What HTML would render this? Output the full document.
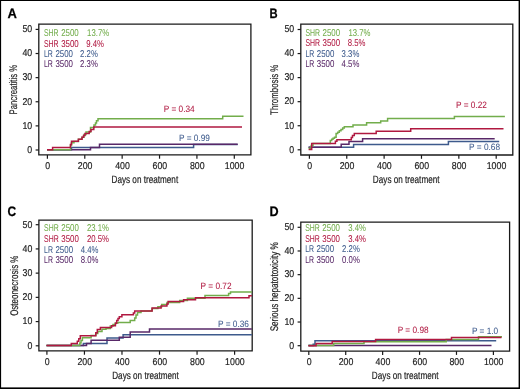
<!DOCTYPE html>
<html><head><meta charset="utf-8"><style>
html,body{margin:0;padding:0;background:#fff;}
body{width:520px;height:389px;overflow:hidden;}
svg{display:block;will-change:transform;text-rendering:geometricPrecision;font-family:"Liberation Sans",sans-serif;}
</style></head><body>
<svg width="520" height="389" viewBox="0 0 520 389">
<rect x="0" y="0" width="520" height="389" fill="#fff"/>
<text transform="translate(7.60,17.70) scale(0.950,1)" font-size="13.7" text-anchor="start" fill="#000" stroke="#000" stroke-width="0.25" font-weight="bold">A</text>
<path d="M38.800,24.1 H250.9 V154.9 H38.800 Z" fill="none" stroke="#1a1a1a" stroke-width="1.3"/>
<path d="M35.6,150.00 H38.800" stroke="#1a1a1a" stroke-width="1.2"/>
<text transform="translate(32.20,152.80) scale(0.890,1)" font-size="9.9" text-anchor="end" fill="#222" stroke="#222" stroke-width="0.18" font-weight="normal">0</text>
<path d="M35.6,125.88 H38.800" stroke="#1a1a1a" stroke-width="1.2"/>
<text transform="translate(32.20,128.68) scale(0.890,1)" font-size="9.9" text-anchor="end" fill="#222" stroke="#222" stroke-width="0.18" font-weight="normal">10</text>
<path d="M35.6,101.76 H38.800" stroke="#1a1a1a" stroke-width="1.2"/>
<text transform="translate(32.20,104.56) scale(0.890,1)" font-size="9.9" text-anchor="end" fill="#222" stroke="#222" stroke-width="0.18" font-weight="normal">20</text>
<path d="M35.6,77.64 H38.800" stroke="#1a1a1a" stroke-width="1.2"/>
<text transform="translate(32.20,80.44) scale(0.890,1)" font-size="9.9" text-anchor="end" fill="#222" stroke="#222" stroke-width="0.18" font-weight="normal">30</text>
<path d="M35.6,53.52 H38.800" stroke="#1a1a1a" stroke-width="1.2"/>
<text transform="translate(32.20,56.32) scale(0.890,1)" font-size="9.9" text-anchor="end" fill="#222" stroke="#222" stroke-width="0.18" font-weight="normal">40</text>
<path d="M35.6,29.40 H38.800" stroke="#1a1a1a" stroke-width="1.2"/>
<text transform="translate(32.20,32.20) scale(0.890,1)" font-size="9.9" text-anchor="end" fill="#222" stroke="#222" stroke-width="0.18" font-weight="normal">50</text>
<path d="M47.40,154.9 V158.700" stroke="#1a1a1a" stroke-width="1.2"/>
<text transform="translate(47.70,169.10) scale(0.890,1)" font-size="9.9" text-anchor="middle" fill="#222" stroke="#222" stroke-width="0.18" font-weight="normal">0</text>
<path d="M84.78,154.9 V158.700" stroke="#1a1a1a" stroke-width="1.2"/>
<text transform="translate(85.08,169.10) scale(0.890,1)" font-size="9.9" text-anchor="middle" fill="#222" stroke="#222" stroke-width="0.18" font-weight="normal">200</text>
<path d="M122.16,154.9 V158.700" stroke="#1a1a1a" stroke-width="1.2"/>
<text transform="translate(122.46,169.10) scale(0.890,1)" font-size="9.9" text-anchor="middle" fill="#222" stroke="#222" stroke-width="0.18" font-weight="normal">400</text>
<path d="M159.54,154.9 V158.700" stroke="#1a1a1a" stroke-width="1.2"/>
<text transform="translate(159.84,169.10) scale(0.890,1)" font-size="9.9" text-anchor="middle" fill="#222" stroke="#222" stroke-width="0.18" font-weight="normal">600</text>
<path d="M196.92,154.9 V158.700" stroke="#1a1a1a" stroke-width="1.2"/>
<text transform="translate(197.22,169.10) scale(0.890,1)" font-size="9.9" text-anchor="middle" fill="#222" stroke="#222" stroke-width="0.18" font-weight="normal">800</text>
<path d="M234.30,154.9 V158.700" stroke="#1a1a1a" stroke-width="1.2"/>
<text transform="translate(234.60,169.10) scale(0.890,1)" font-size="9.9" text-anchor="middle" fill="#222" stroke="#222" stroke-width="0.18" font-weight="normal">1000</text>
<text transform="translate(144.85,183.20) scale(0.770,1)" font-size="10.6" text-anchor="middle" fill="#222" stroke="#222" stroke-width="0.18" font-weight="normal">Days on treatment</text>
<text transform="translate(16.80,89.70) rotate(-90) scale(0.705,1)" font-size="11" text-anchor="middle" fill="#222" stroke="#222" stroke-width="0.18" font-weight="normal">Pancreatitis %</text>
<path d="M47,149.8 H71.5 V147.4 H193.6 V144.5 H237.7" fill="none" stroke="#3d5a8c" stroke-width="1.5" stroke-linejoin="miter" stroke-linecap="butt"/>
<path d="M47,149.8 H90.5 V147.4 H99.5 V144.3 H237.7" fill="none" stroke="#582868" stroke-width="1.5" stroke-linejoin="miter" stroke-linecap="butt"/>
<path d="M47,149.8 H70.5 V145 H71.5 V142.8 H74 V141.4 H78.4 V139.3 H82 V137.2 H84 V134.5 H86 V132 H90.5 V127.4 H94 V125 H95.5 V123 H96.5 V120.8 H98 V118.7 H222.7 V116.2 H243.5" fill="none" stroke="#72ad4b" stroke-width="1.5" stroke-linejoin="miter" stroke-linecap="butt"/>
<path d="M47,149.8 H52.6 V147.6 H70.5 V144.5 H71.5 V141.3 H78.4 V139.2 H82 V137.2 H83.5 V135.5 H85 V133.6 H89.2 V131.5 H91 V129.5 H93.8 V127.1 H242" fill="none" stroke="#b01840" stroke-width="1.5" stroke-linejoin="miter" stroke-linecap="butt"/>
<text transform="translate(44.00,35.80) scale(0.700,1)" font-size="9.9" text-anchor="start" fill="#72ad4b" stroke="#72ad4b" stroke-width="0.05" font-weight="normal">SHR</text>
<text transform="translate(61.16,35.80) scale(0.800,1)" font-size="9.9" text-anchor="start" fill="#72ad4b" stroke="#72ad4b" stroke-width="0.05" font-weight="normal">2500</text>
<text transform="translate(87.10,35.80) scale(0.785,1)" font-size="9.9" text-anchor="start" fill="#72ad4b" stroke="#72ad4b" stroke-width="0.05" font-weight="normal">13.7%</text>
<text transform="translate(44.00,46.50) scale(0.700,1)" font-size="9.9" text-anchor="start" fill="#b01840" stroke="#b01840" stroke-width="0.05" font-weight="normal">SHR</text>
<text transform="translate(61.16,46.50) scale(0.800,1)" font-size="9.9" text-anchor="start" fill="#b01840" stroke="#b01840" stroke-width="0.05" font-weight="normal">3500</text>
<text transform="translate(86.30,46.50) scale(0.785,1)" font-size="9.9" text-anchor="start" fill="#b01840" stroke="#b01840" stroke-width="0.05" font-weight="normal">9.4%</text>
<text transform="translate(44.00,57.00) scale(0.700,1)" font-size="9.9" text-anchor="start" fill="#3d5a8c" stroke="#3d5a8c" stroke-width="0.05" font-weight="normal">LR</text>
<text transform="translate(55.38,57.00) scale(0.800,1)" font-size="9.9" text-anchor="start" fill="#3d5a8c" stroke="#3d5a8c" stroke-width="0.05" font-weight="normal">2500</text>
<text transform="translate(80.10,57.00) scale(0.785,1)" font-size="9.9" text-anchor="start" fill="#3d5a8c" stroke="#3d5a8c" stroke-width="0.05" font-weight="normal">2.2%</text>
<text transform="translate(44.00,67.10) scale(0.700,1)" font-size="9.9" text-anchor="start" fill="#582868" stroke="#582868" stroke-width="0.05" font-weight="normal">LR</text>
<text transform="translate(55.38,67.10) scale(0.800,1)" font-size="9.9" text-anchor="start" fill="#582868" stroke="#582868" stroke-width="0.05" font-weight="normal">3500</text>
<text transform="translate(80.10,67.10) scale(0.785,1)" font-size="9.9" text-anchor="start" fill="#582868" stroke="#582868" stroke-width="0.05" font-weight="normal">2.3%</text>
<text transform="translate(163.80,111.80) scale(0.900,1)" font-size="9.2" text-anchor="start" fill="#b01840" stroke="#b01840" stroke-width="0.05" font-weight="normal">P = 0.34</text>
<text transform="translate(179.00,140.60) scale(0.900,1)" font-size="9.2" text-anchor="start" fill="#3d5a8c" stroke="#3d5a8c" stroke-width="0.05" font-weight="normal">P = 0.99</text>
<text transform="translate(269.60,17.90) scale(0.820,1)" font-size="13.7" text-anchor="start" fill="#000" stroke="#000" stroke-width="0.25" font-weight="bold">B</text>
<path d="M300.8,24.2 H512.8 V155.0 H300.8 Z" fill="none" stroke="#1a1a1a" stroke-width="1.3"/>
<path d="M297.6,149.80 H300.8" stroke="#1a1a1a" stroke-width="1.2"/>
<text transform="translate(294.20,152.60) scale(0.890,1)" font-size="9.9" text-anchor="end" fill="#222" stroke="#222" stroke-width="0.18" font-weight="normal">0</text>
<path d="M297.6,125.74 H300.8" stroke="#1a1a1a" stroke-width="1.2"/>
<text transform="translate(294.20,128.54) scale(0.890,1)" font-size="9.9" text-anchor="end" fill="#222" stroke="#222" stroke-width="0.18" font-weight="normal">10</text>
<path d="M297.6,101.68 H300.8" stroke="#1a1a1a" stroke-width="1.2"/>
<text transform="translate(294.20,104.48) scale(0.890,1)" font-size="9.9" text-anchor="end" fill="#222" stroke="#222" stroke-width="0.18" font-weight="normal">20</text>
<path d="M297.6,77.62 H300.8" stroke="#1a1a1a" stroke-width="1.2"/>
<text transform="translate(294.20,80.42) scale(0.890,1)" font-size="9.9" text-anchor="end" fill="#222" stroke="#222" stroke-width="0.18" font-weight="normal">30</text>
<path d="M297.6,53.56 H300.8" stroke="#1a1a1a" stroke-width="1.2"/>
<text transform="translate(294.20,56.36) scale(0.890,1)" font-size="9.9" text-anchor="end" fill="#222" stroke="#222" stroke-width="0.18" font-weight="normal">40</text>
<path d="M297.6,29.50 H300.8" stroke="#1a1a1a" stroke-width="1.2"/>
<text transform="translate(294.20,32.30) scale(0.890,1)" font-size="9.9" text-anchor="end" fill="#222" stroke="#222" stroke-width="0.18" font-weight="normal">50</text>
<path d="M309.40,155.0 V158.8" stroke="#1a1a1a" stroke-width="1.2"/>
<text transform="translate(309.70,169.20) scale(0.890,1)" font-size="9.9" text-anchor="middle" fill="#222" stroke="#222" stroke-width="0.18" font-weight="normal">0</text>
<path d="M346.76,155.0 V158.8" stroke="#1a1a1a" stroke-width="1.2"/>
<text transform="translate(347.06,169.20) scale(0.890,1)" font-size="9.9" text-anchor="middle" fill="#222" stroke="#222" stroke-width="0.18" font-weight="normal">200</text>
<path d="M384.12,155.0 V158.8" stroke="#1a1a1a" stroke-width="1.2"/>
<text transform="translate(384.42,169.20) scale(0.890,1)" font-size="9.9" text-anchor="middle" fill="#222" stroke="#222" stroke-width="0.18" font-weight="normal">400</text>
<path d="M421.48,155.0 V158.8" stroke="#1a1a1a" stroke-width="1.2"/>
<text transform="translate(421.78,169.20) scale(0.890,1)" font-size="9.9" text-anchor="middle" fill="#222" stroke="#222" stroke-width="0.18" font-weight="normal">600</text>
<path d="M458.84,155.0 V158.8" stroke="#1a1a1a" stroke-width="1.2"/>
<text transform="translate(459.14,169.20) scale(0.890,1)" font-size="9.9" text-anchor="middle" fill="#222" stroke="#222" stroke-width="0.18" font-weight="normal">800</text>
<path d="M496.20,155.0 V158.8" stroke="#1a1a1a" stroke-width="1.2"/>
<text transform="translate(496.50,169.20) scale(0.890,1)" font-size="9.9" text-anchor="middle" fill="#222" stroke="#222" stroke-width="0.18" font-weight="normal">1000</text>
<text transform="translate(406.20,183.40) scale(0.770,1)" font-size="10.6" text-anchor="middle" fill="#222" stroke="#222" stroke-width="0.18" font-weight="normal">Days on treatment</text>
<text transform="translate(278.20,89.80) rotate(-90) scale(0.715,1)" font-size="11" text-anchor="middle" fill="#222" stroke="#222" stroke-width="0.18" font-weight="normal">Thrombosis %</text>
<path d="M308.6,147.3 H353.6 V144.6 H448.4 V141.6 H499.2" fill="none" stroke="#3d5a8c" stroke-width="1.5" stroke-linejoin="miter" stroke-linecap="butt"/>
<path d="M308.6,147.3 H341.2 V144.3 H349 V141.4 H362.6 V138.8 H494.7" fill="none" stroke="#582868" stroke-width="1.5" stroke-linejoin="miter" stroke-linecap="butt"/>
<path d="M308.6,148.2 H311.2 V145.5 H313 V143.4 H330.3 V140.5 H331.7 V139.3 H333 V138.3 H334.5 V137.2 H336.1 V133.5 H337.7 V132.2 H339.3 V130.7 H341 V129.5 H342.7 V128 H344.3 V126.8 H353 V125 H366.6 V122.7 H380.7 V121 H387.6 V118.6 H454.4 V116.5 H504.9" fill="none" stroke="#72ad4b" stroke-width="1.5" stroke-linejoin="miter" stroke-linecap="butt"/>
<path d="M308.6,149.5 H311.7 V143.4 H335.4 V141.3 H336.9 V139.7 H351.3 V137.5 H352.5 V135.5 H354.3 V133.5 H376.2 V131.2 H410.7 V128.7 H503.5" fill="none" stroke="#b01840" stroke-width="1.5" stroke-linejoin="miter" stroke-linecap="butt"/>
<text transform="translate(305.40,35.60) scale(0.700,1)" font-size="9.9" text-anchor="start" fill="#72ad4b" stroke="#72ad4b" stroke-width="0.05" font-weight="normal">SHR</text>
<text transform="translate(322.56,35.60) scale(0.800,1)" font-size="9.9" text-anchor="start" fill="#72ad4b" stroke="#72ad4b" stroke-width="0.05" font-weight="normal">2500</text>
<text transform="translate(348.50,35.60) scale(0.785,1)" font-size="9.9" text-anchor="start" fill="#72ad4b" stroke="#72ad4b" stroke-width="0.05" font-weight="normal">13.7%</text>
<text transform="translate(305.40,46.30) scale(0.700,1)" font-size="9.9" text-anchor="start" fill="#b01840" stroke="#b01840" stroke-width="0.05" font-weight="normal">SHR</text>
<text transform="translate(322.56,46.30) scale(0.800,1)" font-size="9.9" text-anchor="start" fill="#b01840" stroke="#b01840" stroke-width="0.05" font-weight="normal">3500</text>
<text transform="translate(347.80,46.30) scale(0.785,1)" font-size="9.9" text-anchor="start" fill="#b01840" stroke="#b01840" stroke-width="0.05" font-weight="normal">8.5%</text>
<text transform="translate(305.40,57.00) scale(0.700,1)" font-size="9.9" text-anchor="start" fill="#3d5a8c" stroke="#3d5a8c" stroke-width="0.05" font-weight="normal">LR</text>
<text transform="translate(316.78,57.00) scale(0.800,1)" font-size="9.9" text-anchor="start" fill="#3d5a8c" stroke="#3d5a8c" stroke-width="0.05" font-weight="normal">2500</text>
<text transform="translate(341.60,57.00) scale(0.785,1)" font-size="9.9" text-anchor="start" fill="#3d5a8c" stroke="#3d5a8c" stroke-width="0.05" font-weight="normal">3.3%</text>
<text transform="translate(305.40,67.10) scale(0.700,1)" font-size="9.9" text-anchor="start" fill="#582868" stroke="#582868" stroke-width="0.05" font-weight="normal">LR</text>
<text transform="translate(316.78,67.10) scale(0.800,1)" font-size="9.9" text-anchor="start" fill="#582868" stroke="#582868" stroke-width="0.05" font-weight="normal">3500</text>
<text transform="translate(341.60,67.10) scale(0.785,1)" font-size="9.9" text-anchor="start" fill="#582868" stroke="#582868" stroke-width="0.05" font-weight="normal">4.5%</text>
<text transform="translate(456.00,107.50) scale(0.900,1)" font-size="9.2" text-anchor="start" fill="#b01840" stroke="#b01840" stroke-width="0.05" font-weight="normal">P = 0.22</text>
<text transform="translate(469.10,150.00) scale(0.900,1)" font-size="9.2" text-anchor="start" fill="#3d5a8c" stroke="#3d5a8c" stroke-width="0.05" font-weight="normal">P = 0.68</text>
<text transform="translate(7.40,215.60) scale(0.870,1)" font-size="13.7" text-anchor="start" fill="#000" stroke="#000" stroke-width="0.25" font-weight="bold">C</text>
<path d="M38.900,220.1 H252.200 V350.900 H38.900 Z" fill="none" stroke="#1a1a1a" stroke-width="1.3"/>
<path d="M35.7,345.80 H38.900" stroke="#1a1a1a" stroke-width="1.2"/>
<text transform="translate(32.30,348.60) scale(0.890,1)" font-size="9.9" text-anchor="end" fill="#222" stroke="#222" stroke-width="0.18" font-weight="normal">0</text>
<path d="M35.7,321.58 H38.900" stroke="#1a1a1a" stroke-width="1.2"/>
<text transform="translate(32.30,324.38) scale(0.890,1)" font-size="9.9" text-anchor="end" fill="#222" stroke="#222" stroke-width="0.18" font-weight="normal">10</text>
<path d="M35.7,297.36 H38.900" stroke="#1a1a1a" stroke-width="1.2"/>
<text transform="translate(32.30,300.16) scale(0.890,1)" font-size="9.9" text-anchor="end" fill="#222" stroke="#222" stroke-width="0.18" font-weight="normal">20</text>
<path d="M35.7,273.14 H38.900" stroke="#1a1a1a" stroke-width="1.2"/>
<text transform="translate(32.30,275.94) scale(0.890,1)" font-size="9.9" text-anchor="end" fill="#222" stroke="#222" stroke-width="0.18" font-weight="normal">30</text>
<path d="M35.7,248.92 H38.900" stroke="#1a1a1a" stroke-width="1.2"/>
<text transform="translate(32.30,251.72) scale(0.890,1)" font-size="9.9" text-anchor="end" fill="#222" stroke="#222" stroke-width="0.18" font-weight="normal">40</text>
<path d="M35.7,224.70 H38.900" stroke="#1a1a1a" stroke-width="1.2"/>
<text transform="translate(32.30,227.50) scale(0.890,1)" font-size="9.9" text-anchor="end" fill="#222" stroke="#222" stroke-width="0.18" font-weight="normal">50</text>
<path d="M46.90,350.900 V354.700" stroke="#1a1a1a" stroke-width="1.2"/>
<text transform="translate(47.20,365.10) scale(0.890,1)" font-size="9.9" text-anchor="middle" fill="#222" stroke="#222" stroke-width="0.18" font-weight="normal">0</text>
<path d="M84.44,350.900 V354.700" stroke="#1a1a1a" stroke-width="1.2"/>
<text transform="translate(84.74,365.10) scale(0.890,1)" font-size="9.9" text-anchor="middle" fill="#222" stroke="#222" stroke-width="0.18" font-weight="normal">200</text>
<path d="M121.98,350.900 V354.700" stroke="#1a1a1a" stroke-width="1.2"/>
<text transform="translate(122.28,365.10) scale(0.890,1)" font-size="9.9" text-anchor="middle" fill="#222" stroke="#222" stroke-width="0.18" font-weight="normal">400</text>
<path d="M159.52,350.900 V354.700" stroke="#1a1a1a" stroke-width="1.2"/>
<text transform="translate(159.82,365.10) scale(0.890,1)" font-size="9.9" text-anchor="middle" fill="#222" stroke="#222" stroke-width="0.18" font-weight="normal">600</text>
<path d="M197.06,350.900 V354.700" stroke="#1a1a1a" stroke-width="1.2"/>
<text transform="translate(197.36,365.10) scale(0.890,1)" font-size="9.9" text-anchor="middle" fill="#222" stroke="#222" stroke-width="0.18" font-weight="normal">800</text>
<path d="M234.60,350.900 V354.700" stroke="#1a1a1a" stroke-width="1.2"/>
<text transform="translate(234.90,365.10) scale(0.890,1)" font-size="9.9" text-anchor="middle" fill="#222" stroke="#222" stroke-width="0.18" font-weight="normal">1000</text>
<text transform="translate(145.55,379.40) scale(0.770,1)" font-size="10.6" text-anchor="middle" fill="#222" stroke="#222" stroke-width="0.18" font-weight="normal">Days on treatment</text>
<text transform="translate(17.80,285.70) rotate(-90) scale(0.725,1)" font-size="11" text-anchor="middle" fill="#222" stroke="#222" stroke-width="0.18" font-weight="normal">Osteonecrosis %</text>
<path d="M46.5,345.6 H83.4 V343.5 H107 V337.9 H123.1 V334.8 H251.9" fill="none" stroke="#3d5a8c" stroke-width="1.5" stroke-linejoin="miter" stroke-linecap="butt"/>
<path d="M46.5,345.6 H86.5 V343.5 H91.1 V340.3 H119.3 V337.3 H130.2 V332 H149.5 V329 H251.9" fill="none" stroke="#582868" stroke-width="1.5" stroke-linejoin="miter" stroke-linecap="butt"/>
<path d="M46.5,345.6 H79.8 V343 H81 V340.5 H82.4 V337.8 H91.1 V335.5 H95.8 V333.5 H97.8 V331.6 H102 V329.3 H106 V328.6 H110.3 V326 H113 V324.5 H115.4 V323.1 H118 V322.5 H130.2 V320.6 H134.7 V318 H136 V315 H137.5 V312.5 H141 V311 H152 V308.5 H157.9 V306.8 H161.7 V304.5 H167 V302.5 H179.7 V300.5 H187.4 V298.3 H205 V295.6 H228.6 V293.5 H230.5 V291.9 H251.9" fill="none" stroke="#72ad4b" stroke-width="1.5" stroke-linejoin="miter" stroke-linecap="butt"/>
<path d="M46.5,345.6 H71.3 V343.6 H77.3 V341.2 H78.8 V338.8 H80.3 V335.8 H95.8 V332.7 H97.3 V329.6 H100.4 V327.5 H111.6 V325.7 H115.4 V323.2 H116.7 V320.5 H118 V318.5 H119.3 V316.7 H121.9 V314.8 H133.4 V312.9 H134.7 V310.9 H152.1 V308 H161.1 V306.1 H166.9 V304.1 H168.1 V301.6 H183.6 V299.8 H195.5 V297.8 H249 V295.8 H251.9" fill="none" stroke="#b01840" stroke-width="1.5" stroke-linejoin="miter" stroke-linecap="butt"/>
<text transform="translate(44.10,230.80) scale(0.700,1)" font-size="9.9" text-anchor="start" fill="#72ad4b" stroke="#72ad4b" stroke-width="0.05" font-weight="normal">SHR</text>
<text transform="translate(61.26,230.80) scale(0.800,1)" font-size="9.9" text-anchor="start" fill="#72ad4b" stroke="#72ad4b" stroke-width="0.05" font-weight="normal">2500</text>
<text transform="translate(87.00,230.80) scale(0.785,1)" font-size="9.9" text-anchor="start" fill="#72ad4b" stroke="#72ad4b" stroke-width="0.05" font-weight="normal">23.1%</text>
<text transform="translate(44.10,241.50) scale(0.700,1)" font-size="9.9" text-anchor="start" fill="#b01840" stroke="#b01840" stroke-width="0.05" font-weight="normal">SHR</text>
<text transform="translate(61.26,241.50) scale(0.800,1)" font-size="9.9" text-anchor="start" fill="#b01840" stroke="#b01840" stroke-width="0.05" font-weight="normal">3500</text>
<text transform="translate(87.00,241.50) scale(0.785,1)" font-size="9.9" text-anchor="start" fill="#b01840" stroke="#b01840" stroke-width="0.05" font-weight="normal">20.5%</text>
<text transform="translate(44.10,252.70) scale(0.700,1)" font-size="9.9" text-anchor="start" fill="#3d5a8c" stroke="#3d5a8c" stroke-width="0.05" font-weight="normal">LR</text>
<text transform="translate(55.48,252.70) scale(0.800,1)" font-size="9.9" text-anchor="start" fill="#3d5a8c" stroke="#3d5a8c" stroke-width="0.05" font-weight="normal">2500</text>
<text transform="translate(80.80,252.70) scale(0.785,1)" font-size="9.9" text-anchor="start" fill="#3d5a8c" stroke="#3d5a8c" stroke-width="0.05" font-weight="normal">4.4%</text>
<text transform="translate(44.10,263.10) scale(0.700,1)" font-size="9.9" text-anchor="start" fill="#582868" stroke="#582868" stroke-width="0.05" font-weight="normal">LR</text>
<text transform="translate(55.48,263.10) scale(0.800,1)" font-size="9.9" text-anchor="start" fill="#582868" stroke="#582868" stroke-width="0.05" font-weight="normal">3500</text>
<text transform="translate(80.80,263.10) scale(0.785,1)" font-size="9.9" text-anchor="start" fill="#582868" stroke="#582868" stroke-width="0.05" font-weight="normal">8.0%</text>
<text transform="translate(200.60,288.70) scale(0.900,1)" font-size="9.2" text-anchor="start" fill="#b01840" stroke="#b01840" stroke-width="0.05" font-weight="normal">P = 0.72</text>
<text transform="translate(218.00,326.70) scale(0.900,1)" font-size="9.2" text-anchor="start" fill="#3d5a8c" stroke="#3d5a8c" stroke-width="0.05" font-weight="normal">P = 0.36</text>
<text transform="translate(269.60,215.60) scale(0.920,1)" font-size="13.7" text-anchor="start" fill="#000" stroke="#000" stroke-width="0.25" font-weight="bold">D</text>
<path d="M300.8,222.1 H509.6 V351.1 H300.8 Z" fill="none" stroke="#1a1a1a" stroke-width="1.3"/>
<path d="M297.6,345.70 H300.8" stroke="#1a1a1a" stroke-width="1.2"/>
<text transform="translate(294.20,348.50) scale(0.890,1)" font-size="9.9" text-anchor="end" fill="#222" stroke="#222" stroke-width="0.18" font-weight="normal">0</text>
<path d="M297.6,322.02 H300.8" stroke="#1a1a1a" stroke-width="1.2"/>
<text transform="translate(294.20,324.82) scale(0.890,1)" font-size="9.9" text-anchor="end" fill="#222" stroke="#222" stroke-width="0.18" font-weight="normal">10</text>
<path d="M297.6,298.34 H300.8" stroke="#1a1a1a" stroke-width="1.2"/>
<text transform="translate(294.20,301.14) scale(0.890,1)" font-size="9.9" text-anchor="end" fill="#222" stroke="#222" stroke-width="0.18" font-weight="normal">20</text>
<path d="M297.6,274.66 H300.8" stroke="#1a1a1a" stroke-width="1.2"/>
<text transform="translate(294.20,277.46) scale(0.890,1)" font-size="9.9" text-anchor="end" fill="#222" stroke="#222" stroke-width="0.18" font-weight="normal">30</text>
<path d="M297.6,250.98 H300.8" stroke="#1a1a1a" stroke-width="1.2"/>
<text transform="translate(294.20,253.78) scale(0.890,1)" font-size="9.9" text-anchor="end" fill="#222" stroke="#222" stroke-width="0.18" font-weight="normal">40</text>
<path d="M297.6,227.30 H300.8" stroke="#1a1a1a" stroke-width="1.2"/>
<text transform="translate(294.20,230.10) scale(0.890,1)" font-size="9.9" text-anchor="end" fill="#222" stroke="#222" stroke-width="0.18" font-weight="normal">50</text>
<path d="M308.80,351.1 V354.900" stroke="#1a1a1a" stroke-width="1.2"/>
<text transform="translate(309.10,365.30) scale(0.890,1)" font-size="9.9" text-anchor="middle" fill="#222" stroke="#222" stroke-width="0.18" font-weight="normal">0</text>
<path d="M345.72,351.1 V354.900" stroke="#1a1a1a" stroke-width="1.2"/>
<text transform="translate(346.02,365.30) scale(0.890,1)" font-size="9.9" text-anchor="middle" fill="#222" stroke="#222" stroke-width="0.18" font-weight="normal">200</text>
<path d="M382.64,351.1 V354.900" stroke="#1a1a1a" stroke-width="1.2"/>
<text transform="translate(382.94,365.30) scale(0.890,1)" font-size="9.9" text-anchor="middle" fill="#222" stroke="#222" stroke-width="0.18" font-weight="normal">400</text>
<path d="M419.56,351.1 V354.900" stroke="#1a1a1a" stroke-width="1.2"/>
<text transform="translate(419.86,365.30) scale(0.890,1)" font-size="9.9" text-anchor="middle" fill="#222" stroke="#222" stroke-width="0.18" font-weight="normal">600</text>
<path d="M456.48,351.1 V354.900" stroke="#1a1a1a" stroke-width="1.2"/>
<text transform="translate(456.78,365.30) scale(0.890,1)" font-size="9.9" text-anchor="middle" fill="#222" stroke="#222" stroke-width="0.18" font-weight="normal">800</text>
<path d="M493.40,351.1 V354.900" stroke="#1a1a1a" stroke-width="1.2"/>
<text transform="translate(493.70,365.30) scale(0.890,1)" font-size="9.9" text-anchor="middle" fill="#222" stroke="#222" stroke-width="0.18" font-weight="normal">1000</text>
<text transform="translate(405.20,379.40) scale(0.770,1)" font-size="10.6" text-anchor="middle" fill="#222" stroke="#222" stroke-width="0.18" font-weight="normal">Days on treatment</text>
<text transform="translate(278.00,286.80) rotate(-90) scale(0.740,1)" font-size="11" text-anchor="middle" fill="#222" stroke="#222" stroke-width="0.18" font-weight="normal">Serious hepatotoxicity %</text>
<path d="M308.4,345.6 H313.2 V344.2 H315 V340.7 H496.2" fill="none" stroke="#3d5a8c" stroke-width="1.5" stroke-linejoin="miter" stroke-linecap="butt"/>
<path d="M308.4,345.6 H491.5" fill="none" stroke="#582868" stroke-width="1.5" stroke-linejoin="miter" stroke-linecap="butt"/>
<path d="M308.4,345.6 H333.7 V343.5 H364 V341.7 H446.2 V339.5 H478.5 V336.8 H502" fill="none" stroke="#72ad4b" stroke-width="1.5" stroke-linejoin="miter" stroke-linecap="butt"/>
<path d="M308.4,345.7 H316.1 V343.5 H332.2 V341.4 H375.6 V339.4 H451.5 V337.5 H501.5" fill="none" stroke="#b01840" stroke-width="1.5" stroke-linejoin="miter" stroke-linecap="butt"/>
<text transform="translate(305.20,230.80) scale(0.700,1)" font-size="9.9" text-anchor="start" fill="#72ad4b" stroke="#72ad4b" stroke-width="0.05" font-weight="normal">SHR</text>
<text transform="translate(322.36,230.80) scale(0.800,1)" font-size="9.9" text-anchor="start" fill="#72ad4b" stroke="#72ad4b" stroke-width="0.05" font-weight="normal">2500</text>
<text transform="translate(348.30,230.80) scale(0.785,1)" font-size="9.9" text-anchor="start" fill="#72ad4b" stroke="#72ad4b" stroke-width="0.05" font-weight="normal">3.4%</text>
<text transform="translate(305.20,241.60) scale(0.700,1)" font-size="9.9" text-anchor="start" fill="#b01840" stroke="#b01840" stroke-width="0.05" font-weight="normal">SHR</text>
<text transform="translate(322.36,241.60) scale(0.800,1)" font-size="9.9" text-anchor="start" fill="#b01840" stroke="#b01840" stroke-width="0.05" font-weight="normal">3500</text>
<text transform="translate(348.30,241.60) scale(0.785,1)" font-size="9.9" text-anchor="start" fill="#b01840" stroke="#b01840" stroke-width="0.05" font-weight="normal">3.4%</text>
<text transform="translate(305.20,252.40) scale(0.700,1)" font-size="9.9" text-anchor="start" fill="#3d5a8c" stroke="#3d5a8c" stroke-width="0.05" font-weight="normal">LR</text>
<text transform="translate(316.58,252.40) scale(0.800,1)" font-size="9.9" text-anchor="start" fill="#3d5a8c" stroke="#3d5a8c" stroke-width="0.05" font-weight="normal">2500</text>
<text transform="translate(342.10,252.40) scale(0.785,1)" font-size="9.9" text-anchor="start" fill="#3d5a8c" stroke="#3d5a8c" stroke-width="0.05" font-weight="normal">2.2%</text>
<text transform="translate(305.20,262.60) scale(0.700,1)" font-size="9.9" text-anchor="start" fill="#582868" stroke="#582868" stroke-width="0.05" font-weight="normal">LR</text>
<text transform="translate(316.58,262.60) scale(0.800,1)" font-size="9.9" text-anchor="start" fill="#582868" stroke="#582868" stroke-width="0.05" font-weight="normal">3500</text>
<text transform="translate(342.10,262.60) scale(0.785,1)" font-size="9.9" text-anchor="start" fill="#582868" stroke="#582868" stroke-width="0.05" font-weight="normal">0.0%</text>
<text transform="translate(397.70,333.00) scale(0.900,1)" font-size="9.2" text-anchor="start" fill="#b01840" stroke="#b01840" stroke-width="0.05" font-weight="normal">P = 0.98</text>
<text transform="translate(471.90,333.90) scale(0.900,1)" font-size="9.2" text-anchor="start" fill="#3d5a8c" stroke="#3d5a8c" stroke-width="0.05" font-weight="normal">P = 1.0</text>
<rect x="0" y="0" width="520" height="1" fill="#000"/>
<rect x="0" y="0" width="1.1" height="389" fill="#000"/>
<rect x="518.6" y="0" width="1.4" height="389" fill="#000"/>
<rect x="0" y="387.4" width="520" height="1.6" fill="#000"/>
</svg>
</body></html>
